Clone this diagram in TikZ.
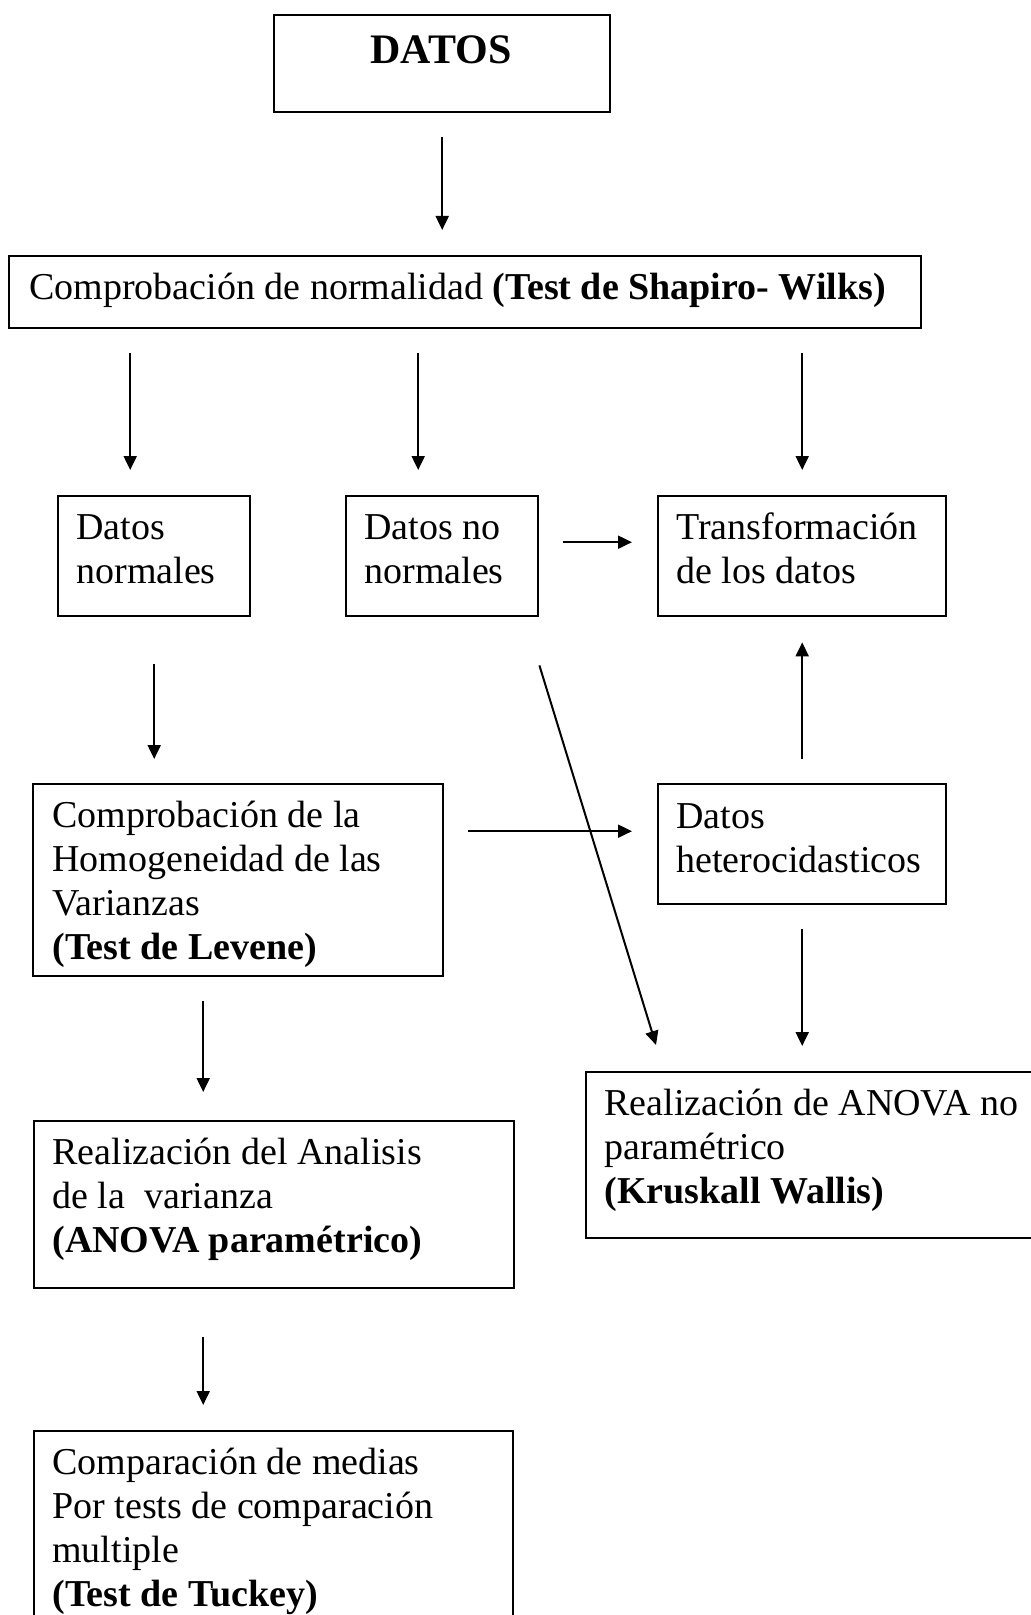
\documentclass[tikz,border=0pt]{standalone}
\usepackage{fontspec}
\setmainfont{Liberation Serif}
\usetikzlibrary{arrows.meta}
\tikzset{
  box/.style={draw, line width=1.2pt, rectangle, inner sep=0pt, anchor=north west},
  txt/.style={inner sep=0pt, anchor=base west, font=\fontsize{19}{22}\selectfont},
  arr/.style={line width=1pt, -{Triangle[length=7pt,width=6.5pt]}},
  sh/.style={shorten <=12pt, shorten >=12.5pt}
}
\newcommand\lns[1]{\begin{tabular}[t]{@{}l@{}}#1\end{tabular}}
\begin{document}
\begin{tikzpicture}[x=0.5pt,y=-0.5pt]
\useasboundingbox (0,0) rectangle (1031,1615);
\clip (0,0) rectangle (1031,1615);
% boxes
\node[box, minimum width=168pt, minimum height=48.5pt] (datos) at (273,14) {};
\node[box, minimum width=456pt, minimum height=36pt] (shapiro) at (8,255) {};
\node[box, minimum width=96pt, minimum height=60pt] (dn) at (57,495) {};
\node[box, minimum width=96pt, minimum height=60pt] (dnn) at (345,495) {};
\node[box, minimum width=144pt, minimum height=60pt] (trans) at (657,495) {};
\node[box, minimum width=205pt, minimum height=96pt] (homo) at (32,783) {};
\node[box, minimum width=144pt, minimum height=60pt] (het) at (657,783) {};
\node[box, minimum width=240pt, minimum height=83.5pt] (anova) at (33,1120) {};
\node[box, minimum width=230pt, minimum height=83pt] (krus) at (585,1071) {};
\node[box, minimum width=239.5pt, minimum height=100pt] (comp) at (33,1430) {};
% texts
\node[inner sep=0pt, anchor=base, font=\fontsize{21}{24}\selectfont\bfseries] (tdatos) at (441,64) {DATOS};
\node[txt] (tshap) at ([shift={(21,45)}]shapiro.north west) {Comprobación de normalidad \textbf{(Test de Shapiro- Wilks)}};
\node[txt] (tdn) at ([shift={(19,44)}]dn.north west) {\lns{Datos\\normales}};
\node[txt] (tdnn) at ([shift={(19,44)}]dnn.north west) {\lns{Datos no\\normales}};
\node[txt] (ttrans) at ([shift={(19,44)}]trans.north west) {\lns{Transformación\\de los datos}};
\node[txt] (thomo) at ([shift={(20,44)}]homo.north west) {\lns{Comprobación de la\\Homogeneidad de las\\Varianzas\\\textbf{(Test de Levene)}}};
\node[txt] (thet) at ([shift={(19,45)}]het.north west) {\lns{Datos\\heterocidasticos}};
\node[txt] (tanova) at ([shift={(19,44)}]anova.north west) {\lns{Realización del Analisis\\de la\ \ varianza\\\textbf{(ANOVA paramétrico)}}};
\node[txt] (tkrus) at ([shift={(19,44)}]krus.north west) {\lns{Realización de ANOVA no\\paramétrico\\\textbf{(Kruskall Wallis)}}};
\node[txt] (tcomp) at ([shift={(19,44)}]comp.north west) {\lns{Comparación de medias\\Por tests de comparación\\multiple\\\textbf{(Test de Tuckey)}}};
% helper coordinates
\coordinate (c1) at ([xshift=-12pt]dn.north);
\coordinate (c2) at ([xshift=-12pt]dnn.north);
\coordinate (c3) at ([xshift=-17.5pt]homo.south);
\coordinate (r1) at ([yshift=7pt]dnn.east);
\coordinate (r2) at ([yshift=6.5pt]het.west);
% connectors
\draw[arr,sh] (datos.south) -- (datos.south |- shapiro.north);
\draw[arr,sh] (c1 |- shapiro.south) -- (c1);
\draw[arr,sh] (c2 |- shapiro.south) -- (c2);
\draw[arr,sh] (trans.north |- shapiro.south) -- (trans.north);
\draw[arr,sh] (r1) -- (r1 -| trans.west);
\draw[arr,shorten <=23.5pt,shorten >=12pt] (dn.south) -- (dn.south |- homo.north);
\draw[arr,sh] (r2 -| homo.east) -- (r2);
\draw[arr,sh] (het.north) -- (trans.south);
\draw[arr,sh] (het.south) -- (het.south |- krus.north);
\draw[arr] ([yshift=-24pt]dnn.south east) -- ([xshift=35.5pt,yshift=13pt]krus.north west);
\draw[arr,shorten <=12pt,shorten >=14pt] (c3) -- (c3 |- anova.north);
\draw[arr,shorten <=24pt,shorten >=12.5pt] (c3 |- anova.south) -- (c3 |- comp.north);
\end{tikzpicture}
\end{document}
